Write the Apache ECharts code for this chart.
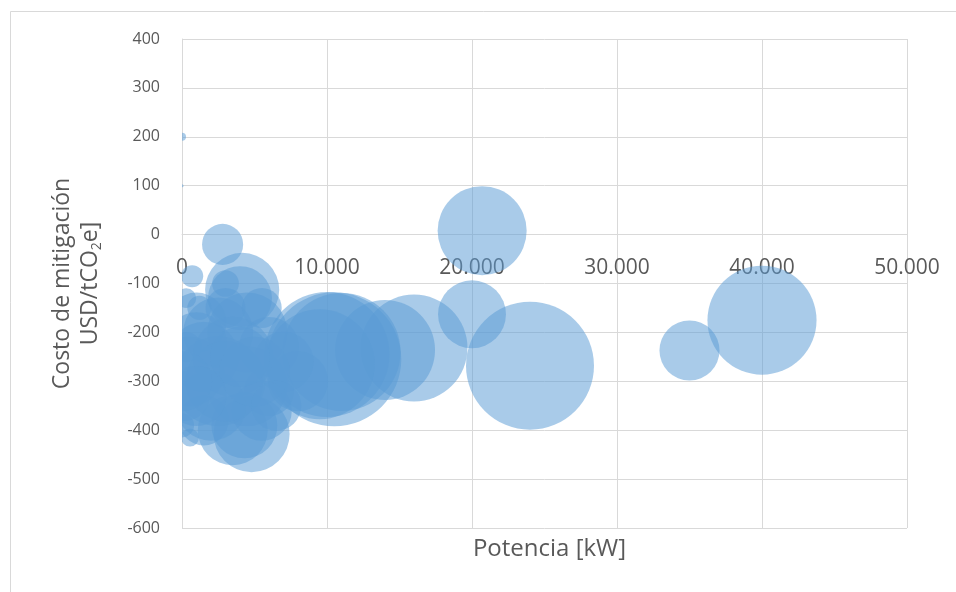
<!DOCTYPE html>
<html>
<head>
<meta charset="utf-8">
<script src="https://cdn.jsdelivr.net/npm/echarts@6/dist/echarts.min.js"></script>
<style>
html,body{margin:0;padding:0;background:#fff;}
#chart{width:956px;height:592px;}
</style>
</head>
<body>
<div id="chart"></div>
<script>
// Potencia [kW]
var potencia = [0, 0, 2800, 20700, 20000, 24000, 35000, 40000, 16000, 14000,
  10500, 10000, 11000, 9500, 4150, 4000, 700, 3000, 1000, 2500,
  4500, 6000, 500, 2500, 4500, 6000, 1500, 3500, 4800, 4300,
  550, 0, 300, 1200, 300, 3000, 5500, 8000, 1500, 3500,
  7000, 200, 5500, 1000, 2000, 3000, 5000, 0, 1000, 4000,
  6500];
// Costo de mitigación USD/tCO2e
var costo = [200, 100, -20, 8, -163, -268, -237, -175, -232, -236,
  -255, -245, -240, -265, -113, -130, -85, -100, -180, -200,
  -200, -230, -280, -300, -310, -320, -380, -400, -408, -390,
  -415, -390, -130, -150, -230, -150, -150, -300, -250, -250,
  -260, -330, -360, -220, -350, -300, -280, -300, -330, -250,
  -350];
// Tamaño de burbuja (tCO2e)
var tamano = [200, 30, 5200, 24400, 14200, 50400, 11100, 36600, 35200, 30800,
  55300, 48100, 42900, 37200, 16900, 12600, 1500, 2200, 11100, 15100,
  19700, 11100, 15100, 24900, 19700, 7700, 7700, 15100, 17800, 13400,
  1000, 1800, 1200, 1800, 2800, 4900, 4900, 11100, 15100, 19700,
  11100, 7700, 11100, 11100, 15100, 19700, 15100, 11100, 11100, 11100,
  7700];
var xTicks = {min: 0, max: 50000, interval: 10000};
var yTicks = {min: -600, max: 400, interval: 100};

var data = potencia.map(function (x, i) { return [x, costo[i], tamano[i]]; });
var font = 'Open Sans';
var grey = '#595959';
var gridTop = 39, gridBottom = 64, H = 592;
var plotH = H - gridTop - gridBottom;
// the horizontal axis crosses the vertical one at 0
var zeroOffset = -plotH * (0 - yTicks.min) / (yTicks.max - yTicks.min);
var chart = echarts.init(document.getElementById('chart'));
chart.setOption({
  backgroundColor: '#ffffff',
  animation: false,
  grid: {left: 182, right: 49, top: gridTop, bottom: gridBottom},
  graphic: [{
    type: 'rect', left: 8, top: 9, silent: true,
    shape: {x: 0.5, y: 0.5, width: 1200, height: 1200},
    style: {fill: 'none', stroke: '#d9d9d9', lineWidth: 1}
  }],
  title: {
    text: 'Potencia [kW]', left: 544.5, top: 532, textAlign: 'center',
    textStyle: {color: grey, fontFamily: font, fontSize: 24, fontWeight: 'normal'}
  },
  xAxis: {
    type: 'value', min: xTicks.min, max: xTicks.max, interval: xTicks.interval,
    position: 'bottom', offset: zeroOffset,
    axisLine: {show: true, onZero: false, lineStyle: {color: '#d9d9d9'}},
    axisTick: {show: false},
    splitLine: {show: true, lineStyle: {color: '#d9d9d9', width: 1}},
    axisLabel: {
      margin: 23, color: grey, fontFamily: font, fontSize: 21,
      formatter: function (v) { return v.toString().replace(/\B(?=(\d{3})+(?!\d))/g, '.'); }
    }
  },
  yAxis: {
    type: 'value', min: yTicks.min, max: yTicks.max, interval: yTicks.interval,
    axisLine: {show: true, onZero: false, lineStyle: {color: '#d9d9d9'}},
    axisTick: {show: false},
    splitLine: {show: true, lineStyle: {color: '#d9d9d9', width: 1}},
    axisLabel: {margin: 22, color: grey, fontFamily: font, fontSize: 16},
    name: '{a|Costo de mitigación}\n{a|USD/tCO}{s|2}{a|e]}',
    nameLocation: 'middle', nameRotate: 90, nameGap: 78,
    nameTextStyle: {
      color: grey, fontFamily: font, fontSize: 23, lineHeight: 28,
      rich: {
        a: {fontSize: 23, fontFamily: font, color: grey, lineHeight: 28, align: 'center'},
        s: {fontSize: 14, fontFamily: font, color: grey, lineHeight: 28, align: 'center', verticalAlign: 'bottom', padding: [8, 0, 0, 0]}
      }
    }
  },
  series: [{
    type: 'custom',
    data: data,
    clip: true,
    encode: {x: 0, y: 1},
    renderItem: function (params, api) {
      var p = api.coord([api.value(0), api.value(1)]);
      var r = Math.sqrt(api.value(2)) * 0.57 / 2;
      return {
        type: 'circle',
        shape: {cx: p[0], cy: p[1], r: r},
        style: {fill: 'rgba(91,155,213,0.52)'}
      };
    },
    emphasis: {disabled: true}
  }]
});
</script>
</body>
</html>
